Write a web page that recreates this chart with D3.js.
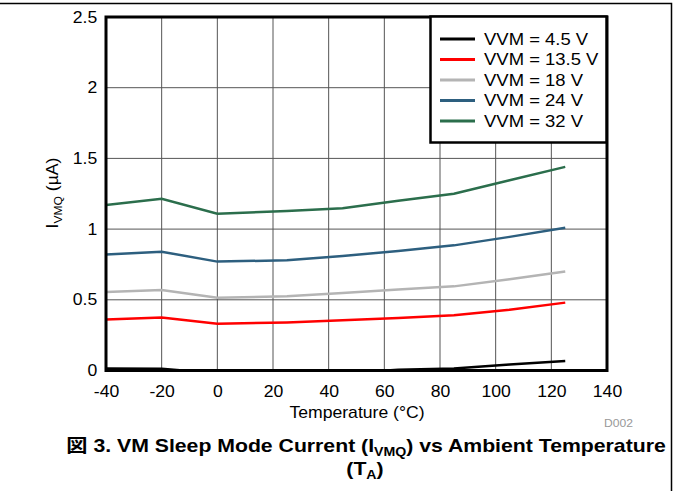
<!DOCTYPE html>
<html>
<head>
<meta charset="utf-8">
<script src="https://cdn.jsdelivr.net/npm/d3@7"></script>
<style>
  body { margin: 0; background: #fff; }
  text { font-family: "Liberation Sans", Arial, Helvetica, sans-serif; }
</style>
</head>
<body>
<div id="chart"></div>
<script>
// data (temperature in °C, current in µA)
var temps = [-40, -20, 0, 25, 45, 65, 85, 105, 125]
var vvm45 = [0.015, 0.012, -0.02, -0.02, -0.02, 0.005, 0.015, 0.042, 0.068]
var vvm135 = [0.36, 0.375, 0.33, 0.34, 0.355, 0.372, 0.39, 0.43, 0.48]
var vvm18 = [0.555, 0.57, 0.515, 0.525, 0.548, 0.573, 0.595, 0.645, 0.70]
var vvm24 = [0.82, 0.84, 0.77, 0.78, 0.81, 0.845, 0.885, 0.945, 1.01]
var vvm32 = [1.17, 1.215, 1.108, 1.128, 1.148, 1.2, 1.25, 1.345, 1.44]

var seriesNames = ["VVM = 4.5 V", "VVM = 13.5 V", "VVM = 18 V", "VVM = 24 V", "VVM = 32 V"]
var seriesColors = ["#000000", "#ff0000", "#b4b4b4", "#2d5f7f", "#2b6e4c"]
var seriesValues = [vvm45, vvm135, vvm18, vvm24, vvm32]

var xTicks = [-40, -20, 0, 20, 40, 60, 80, 100, 120, 140]
var yTicks = [0, 0.5, 1, 1.5, 2, 2.5]

var width = 681, height = 491
var sx = 1.1 // reference text is a little stretched sideways

var svg = d3.select("#chart").append("svg")
    .attr("width", width)
    .attr("height", height)

// outer frame (top and right edges only)
svg.append("path")
    .attr("d", "M0,3.5H671.5V491")
    .attr("fill", "none")
    .attr("stroke", "#000")
    .attr("stroke-width", 1.5)

var x = d3.scaleLinear().domain([-40, 140]).range([106, 607])
var y = d3.scaleLinear().domain([0, 2.5]).range([370.5, 17])

// grid
svg.append("g").selectAll("line")
    .data(xTicks.slice(1, -1))
    .enter().append("line")
    .attr("x1", d => x(d)).attr("x2", d => x(d))
    .attr("y1", y(0)).attr("y2", y(2.5))
    .attr("stroke", "#555").attr("stroke-width", 1)

svg.append("g").selectAll("line")
    .data(yTicks.slice(1, -1))
    .enter().append("line")
    .attr("x1", x(-40)).attr("x2", x(140))
    .attr("y1", d => y(d)).attr("y2", d => y(d))
    .attr("stroke", "#555").attr("stroke-width", 1)

// lines
svg.append("clipPath").attr("id", "plotclip")
    .append("rect")
    .attr("x", x(-40)).attr("y", y(2.5))
    .attr("width", x(140) - x(-40)).attr("height", y(0) - y(2.5))

var line = d3.line()
    .x((d, i) => x(temps[i]))
    .y(d => y(d))

svg.append("g").attr("clip-path", "url(#plotclip)")
    .selectAll("path")
    .data(seriesValues)
    .enter().append("path")
    .attr("d", line)
    .attr("fill", "none")
    .attr("stroke", (d, i) => seriesColors[i])
    .attr("stroke-width", 2.5)

// plot frame
svg.append("rect")
    .attr("x", x(-40)).attr("y", y(2.5))
    .attr("width", x(140) - x(-40)).attr("height", y(0) - y(2.5))
    .attr("fill", "none").attr("stroke", "#000").attr("stroke-width", 3)

// axes
var xAxis = svg.append("g")
    .attr("transform", "translate(0," + y(0) + ")")
    .call(d3.axisBottom(x).tickValues(xTicks).tickSize(0).tickPadding(15).tickFormat(d => String(d)))
xAxis.select(".domain").remove()
xAxis.selectAll("text")
    .attr("fill", "#000")
    .style("font-size", "16px")
    .attr("transform", "scale(" + sx + ",1)")

var yAxis = svg.append("g")
    .attr("transform", "translate(" + x(-40) + ",0)")
    .call(d3.axisLeft(y).tickValues(yTicks).tickSize(0).tickPadding(8).tickFormat(d => String(d)))
yAxis.select(".domain").remove()
yAxis.selectAll("text")
    .attr("fill", "#000")
    .style("font-size", "16px")
    .attr("transform", "scale(" + sx + ",1)")

// axis titles
svg.append("text")
    .attr("transform", "translate(357,418) scale(" + sx + ",1)")
    .attr("text-anchor", "middle")
    .style("font-size", "16px")
    .text("Temperature (°C)")

var yl = svg.append("text")
    .attr("transform", "translate(58,193) rotate(-90) scale(" + sx + ",1)")
    .attr("text-anchor", "middle")
    .style("font-size", "16px")
yl.append("tspan").text("I")
yl.append("tspan").attr("dy", 4).style("font-size", "11px").text("VMQ")
yl.append("tspan").attr("dy", -4).text(" (µA)")

svg.append("text")
    .attr("transform", "translate(633,427) scale(" + sx + ",1)")
    .attr("text-anchor", "end")
    .attr("fill", "#999")
    .style("font-size", "11px")
    .text("D002")

// legend
var legend = svg.append("g")
legend.append("rect")
    .attr("x", 430.5).attr("y", 16.5)
    .attr("width", 176).attr("height", 126)
    .attr("fill", "#fff").attr("stroke", "#000").attr("stroke-width", 2.5)

var rows = legend.selectAll("g.row")
    .data(seriesNames)
    .enter().append("g")
    .attr("class", "row")
    .attr("transform", (d, i) => "translate(0," + (39 + i * 20.5) + ")")
rows.append("line")
    .attr("x1", 440).attr("x2", 475)
    .attr("stroke", (d, i) => seriesColors[i])
    .attr("stroke-width", 3)
rows.append("text")
    .attr("transform", "translate(484,0) scale(1.12,1)")
    .attr("dy", "0.36em")
    .style("font-size", "16.5px")
    .text(d => d)

// caption
var cap = svg.append("text")
    .attr("transform", "translate(366,452) scale(1.18,1)")
    .attr("text-anchor", "middle")
    .style("font-size", "18px")
    .style("font-weight", "bold")
cap.append("tspan").style("font-family", "'Noto Sans CJK JP'").text("図")
cap.append("tspan").text(" 3. VM Sleep Mode Current (I")
cap.append("tspan").attr("dy", 4).style("font-size", "12px").text("VMQ")
cap.append("tspan").attr("dy", -4).text(") vs Ambient Temperature")

var cap2 = svg.append("text")
    .attr("transform", "translate(365,475) scale(1.18,1)")
    .attr("text-anchor", "middle")
    .style("font-size", "18px")
    .style("font-weight", "bold")
cap2.append("tspan").text("(T")
cap2.append("tspan").attr("dy", 4).style("font-size", "12px").text("A")
cap2.append("tspan").attr("dy", -4).text(")")
</script>
</body>
</html>
